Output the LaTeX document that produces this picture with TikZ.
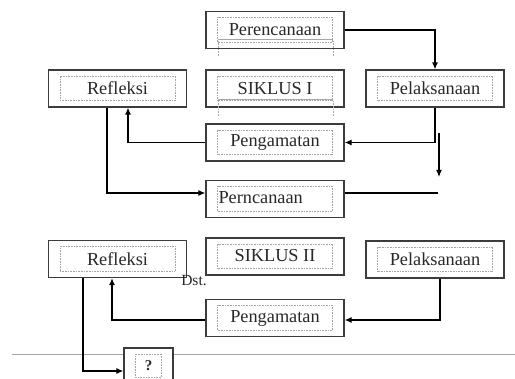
\documentclass[tikz,border=0pt]{standalone}
\usepackage{fontspec}
\setmainfont{Liberation Serif}
\usetikzlibrary{arrows.meta}
\definecolor{boxgray}{RGB}{60,60,60}
\definecolor{dotgray}{RGB}{165,165,165}
\definecolor{textgray}{RGB}{40,40,40}
\begin{document}
\begin{tikzpicture}[x=1pt,y=-1pt,
  stage/.style={draw=boxgray, line width=1.4pt, fill=white, text=textgray,
    minimum width=138pt, minimum height=37pt, inner sep=0pt,
    font=\fontsize{18.3}{21}\selectfont,
    path picture={\draw[dotgray, densely dotted, line width=0.6pt]
      ([shift={(11.5pt,6.5pt)}]path picture bounding box.south west) rectangle
      ([shift={(-11.5pt,-6pt)}]path picture bounding box.north east);}},
  flow/.style={line width=1.1pt, -{Latex[length=7pt,width=6pt]}},
  trail/.style={dotgray, densely dotted, line width=0.6pt}]
  \useasboundingbox (0,0) rectangle (515,379);

  \draw[dotgray, line width=0.7pt] (12,354) -- (515,354);

  % cycle I
  \node (plan-i)	at (275,30)	[stage]	{Perencanaan};
  \node (refl-i)	at (117.5,88.5)	[stage]	{Refleksi};
  \node (cycle-i)	at (275,88.5)	[stage]	{SIKLUS I};
  \node (act-i)		at (435,88.5)	[stage]	{Pelaksanaan};
  \node (obs-i)		at (275,142.5)	[stage]	{Pengamatan};

  % cycle II
  \node (plan-ii)	at (275,199)	[stage, text width=113pt, align=left]	{\raisebox{2pt}{Perncanaan}};
  \node (refl-ii)	at (117.5,259)	[stage]	{Refleksi};
  \node (cycle-ii)	at (275,256.5)	[stage]	{\raisebox{1.5pt}{SIKLUS II}};
  \node (act-ii)	at (435,259.5)	[stage]	{Pelaksanaan};
  \node (obs-ii)	at (275,318)	[stage]	{Pengamatan};

  \node (next)		at (148.5,366)	[stage, minimum width=49pt, minimum height=36pt,
  				 font=\fontsize{15}{18}\selectfont\bfseries]	{?};
  \node (etc)		at (194,281)	[text=textgray, inner sep=0pt,
  				 font=\fontsize{15.5}{18}\selectfont]	{Dst.};

  \coordinate (drop-top)	at (439,133);
  \coordinate (drop-end)	at (439,177);
  \coordinate (plan-end)	at (438,193);

  % text frame traces
  \draw[trail] (218,41) -- (218,57);
  \draw[trail] (333,41) -- (333,57);
  \draw[dotgray, line width=0.5pt] (218,39.5) -- (333,39.5);
  \draw[trail] (218,101) -- (218,116);
  \draw[trail] (333,101) -- (333,116);
  \draw[dotgray, line width=0.5pt] (218,99.5) -- (333,99.5);

  \draw[flow] (plan-i.east) -| (act-i.north);
  \draw[flow] (act-i.south) |- (obs-i.east);
  \draw[flow] (obs-i.west) -| ([xshift=10.5pt]refl-i.south);
  \draw[flow] (drop-top) -- (drop-end);
  \draw[flow] ([xshift=-10.5pt]refl-i.south) |- ([yshift=6pt]plan-ii.west);
  \draw[line width=1.1pt] ([yshift=6pt]plan-ii.east) -- (plan-end);

  \draw[flow] ([xshift=5pt]act-ii.south) |- ([yshift=-2pt]obs-ii.east);
  \draw[flow] ([yshift=-2pt]obs-ii.west) -| ([xshift=-5.5pt]refl-ii.south);
  \draw[flow] ([xshift=-34.5pt]refl-ii.south) |- ([yshift=-5pt]next.west);
\end{tikzpicture}
\end{document}
